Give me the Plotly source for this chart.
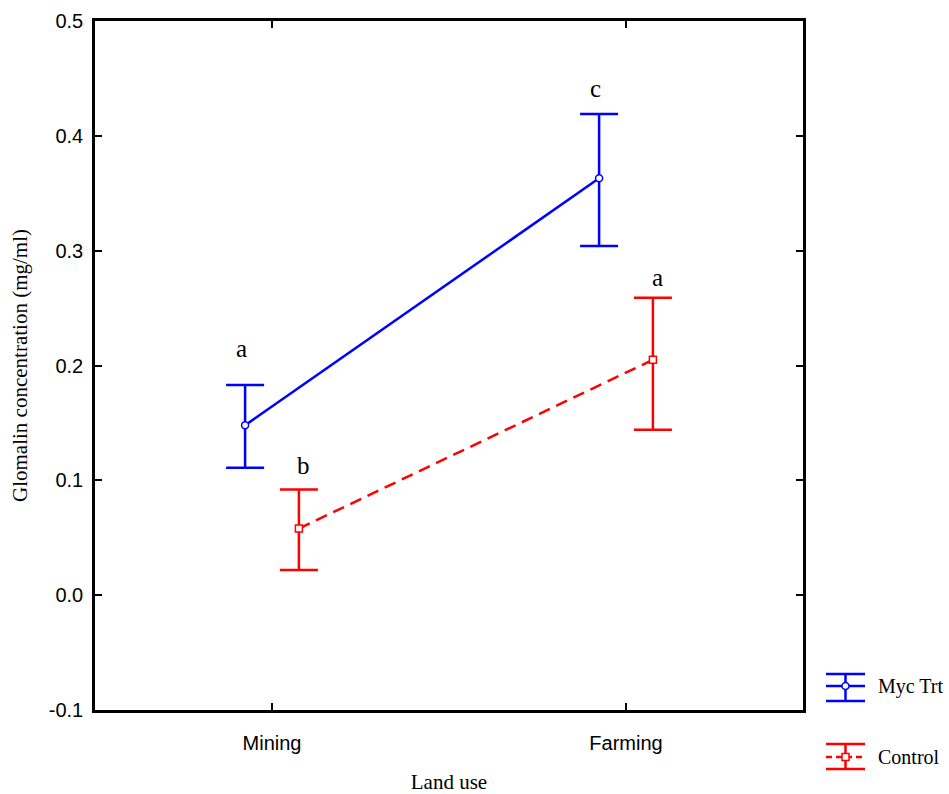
import plotly.graph_objects as go

categories = ["Mining", "Farming"]
myc_mean = [0.148, 0.363]
myc_upper = [0.183, 0.419]
myc_lower = [0.111, 0.304]
ctrl_mean = [0.058, 0.205]
ctrl_upper = [0.092, 0.259]
ctrl_lower = [0.022, 0.144]
y_ticks = [-0.1, 0.0, 0.1, 0.2, 0.3, 0.4, 0.5]
y_ticklabels = ["-0.1", "0.0", "0.1", "0.2", "0.3", "0.4", "0.5"]
myc_letters = ["a", "c"]
ctrl_letters = ["b", "a"]

OFF = 0.076
BLUE = "#0000ff"
RED = "#ff0000"
idx = list(range(len(categories)))
SERIF = "Liberation Serif, Times New Roman, serif"
SANS = "Liberation Sans, Arial, sans-serif"

fig = go.Figure()

def series(mean, up, lo, shift, color, symbol, dash, name):
    xs = [i + shift for i in idx]
    fig.add_trace(go.Scatter(
        x=xs, y=mean, mode="lines+markers", name=name,
        line=dict(color=color, width=2.5, dash=dash),
        marker=dict(symbol=symbol, size=7, color="white", line=dict(color=color, width=1.5)),
        error_y=dict(type="data", symmetric=False,
                     array=[u - m for u, m in zip(up, mean)],
                     arrayminus=[m - l for m, l in zip(mean, lo)],
                     color=color, thickness=2.5, width=19),
        showlegend=False, cliponaxis=False,
    ))

series(myc_mean, myc_upper, myc_lower, -OFF, BLUE, "circle", "solid", "Myc Trt")
series(ctrl_mean, ctrl_upper, ctrl_lower, OFF, RED, "square", "12px,7px", "Control")

letter_font = dict(family=SERIF, size=25, color="black")
myc_label_y = [0.215, 0.441]
ctrl_label_y = [0.113, 0.2765]
for i in idx:
    fig.add_annotation(x=i - OFF, y=myc_label_y[i], text=myc_letters[i], showarrow=False,
                       xshift=-4, font=letter_font, yanchor="middle")
    fig.add_annotation(x=i + OFF, y=ctrl_label_y[i], text=ctrl_letters[i], showarrow=False,
                       xshift=5, font=letter_font, yanchor="middle")

# Manual legend
PW = 708.0
PH = 689.0
def px(x):
    return (x - 95) / PW
def py(y):
    return (710 - y) / PH

def legend_entry(yc, ytop, ybot, color, dash, kind, label):
    for yy in (ytop, ybot):
        fig.add_shape(type="line", xref="paper", yref="paper",
                      x0=px(826), x1=px(865), y0=py(yy), y1=py(yy),
                      line=dict(color=color, width=2.5))
    fig.add_shape(type="line", xref="paper", yref="paper",
                  x0=px(845.5), x1=px(845.5), y0=py(ytop), y1=py(ybot),
                  line=dict(color=color, width=2.5))
    fig.add_shape(type="line", xref="paper", yref="paper",
                  x0=px(826), x1=px(865), y0=py(yc), y1=py(yc),
                  line=dict(color=color, width=2.5, dash=dash))
    fig.add_shape(type=kind, xref="paper", yref="paper",
                  x0=px(842), x1=px(849), y0=py(yc + 3.5), y1=py(yc - 3.5),
                  fillcolor="white", line=dict(color=color, width=1.5))
    fig.add_annotation(xref="paper", yref="paper", x=px(876), y=py(yc), text=label,
                       showarrow=False, xanchor="left", yanchor="middle",
                       font=dict(family=SERIF, size=20, color="black"))

legend_entry(686, 674, 701, BLUE, "solid", "circle", "Myc Trt")
legend_entry(757, 744, 769, RED, "6px,4px", "rect", "Control")

axis_common = dict(showline=True, linecolor="black", linewidth=2.5, mirror="ticks",
                   ticks="inside", ticklen=7, tickwidth=2, tickcolor="black",
                   showgrid=False, zeroline=False, automargin=False,
                   tickfont=dict(family=SANS, size=20, color="black"))

fig.update_xaxes(range=[-0.5, 1.5], tickvals=idx, ticktext=categories,
                 ticklabelstandoff=13,
                 title=dict(text="Land use", standoff=26,
                            font=dict(family=SERIF, size=21, color="black")),
                 **axis_common)
fig.update_yaxes(range=[-0.1, 0.5], tickvals=y_ticks, ticktext=y_ticklabels,
                 ticklabelstandoff=5,
                 title=dict(text="Glomalin concentration (mg/ml)", standoff=16,
                            font=dict(family=SERIF, size=21, color="black")),
                 **axis_common)

fig.update_layout(width=949, height=794, plot_bgcolor="white", paper_bgcolor="white",
                  margin=dict(l=95, r=146, t=21, b=84), showlegend=False)

fig.write_html("out.html")
